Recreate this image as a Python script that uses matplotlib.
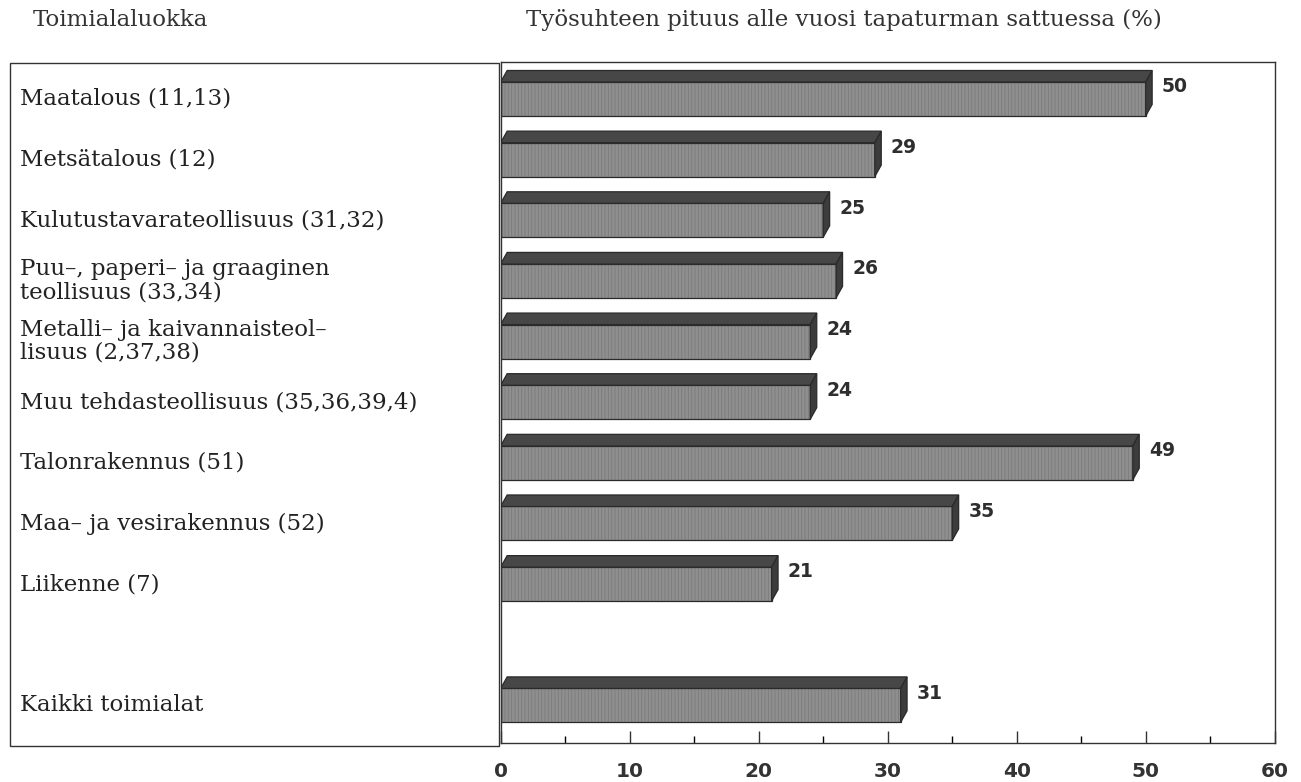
import matplotlib.pyplot as plt
import numpy as np
from matplotlib.patches import Polygon, Rectangle
from matplotlib.ticker import MultipleLocator
from matplotlib.transforms import blended_transform_factory

# Data
kategoriat = [
    "Maatalous (11,13)",
    "Metsätalous (12)",
    "Kulutustavarateollisuus (31,32)",
    "Puu–, paperi– ja graaginen\nteollisuus (33,34)",
    "Metalli– ja kaivannaisteol–\nlisuus (2,37,38)",
    "Muu tehdasteollisuus (35,36,39,4)",
    "Talonrakennus (51)",
    "Maa– ja vesirakennus (52)",
    "Liikenne (7)",
    "Kaikki toimialat",
]
arvot = [50, 29, 25, 26, 24, 24, 49, 35, 21, 31]
rivit = [0, 1, 2, 3, 4, 5, 6, 7, 8, 10]   # rivi 9 jaa tyhjaksi
x_ticks = [0, 10, 20, 30, 40, 50, 60]

otsikko_vasen = "Toimialaluokka"
otsikko_oikea = "Työsuhteen pituus alle vuosi tapaturman sattuessa (%)"

plt.rcParams['hatch.linewidth'] = 0.6

W, H = 1301, 782
fig = plt.figure(figsize=(W / 100, H / 100), dpi=100)

# vasen laatikko (luokkien nimet)
fig.patches.append(Rectangle((10 / W, 1 - 746 / H), (499 - 10) / W, (746 - 63) / H,
                             transform=fig.transFigure, fill=False,
                             edgecolor='#333333', linewidth=1.0))

ax = fig.add_axes([500.7 / W, 1 - 743 / H, 774 / W, 681 / H])
ax.set_xlim(0, 60)
ax.set_ylim(10.62, -0.61)

# 3D-palkit
h = 0.56      # etupinnan korkeus
dx = 0.5      # syvyys x-suunnassa
dy = 0.19     # syvyys y-suunnassa
ax.barh(rivit, arvot, height=h, left=0, color='#8f8f8f', edgecolor='#7a7a7a',
        linewidth=0, hatch='|||||', zorder=2)
ax.barh(rivit, arvot, height=h, left=0, fill=False, edgecolor='#2a2a2a',
        linewidth=0.9, zorder=2.5)
for r, v in zip(rivit, arvot):
    yla = r - h / 2
    ala = r + h / 2
    top = Polygon([(0, yla), (dx, yla - dy), (v + dx, yla - dy), (v, yla)],
                  closed=True, facecolor='#474747', edgecolor='#2a2a2a',
                  linewidth=0.9, zorder=3)
    side = Polygon([(v, yla), (v + dx, yla - dy), (v + dx, ala - dy), (v, ala)],
                   closed=True, facecolor='#3c3c3c', edgecolor='#2a2a2a',
                   linewidth=0.9, zorder=3)
    ax.add_patch(top)
    ax.add_patch(side)
    ax.annotate(str(v), xy=(v + dx, r - 0.2), xytext=(7, 0),
                textcoords='offset points', ha='left', va='center',
                fontsize=13.5, fontweight='bold', family='DejaVu Sans',
                color='#2e2e2e')

# akselit
ax.set_yticks([])
ax.set_xticks(x_ticks)
ax.xaxis.set_minor_locator(MultipleLocator(5))
ax.tick_params(axis='x', which='major', direction='in', length=9, width=1.0,
               pad=14, labelsize=14.5, colors='#333333')
ax.tick_params(axis='x', which='minor', direction='in', length=5, width=1.0)
for lab in ax.get_xticklabels():
    lab.set_fontweight('bold')
for s in ax.spines.values():
    s.set_color('#333333')
    s.set_linewidth(1.0)

# luokkien nimet vasempaan laatikkoon
trans = blended_transform_factory(fig.transFigure, ax.transData)
for r, nimi in zip(rivit, kategoriat):
    fig.text(20 / W, r, nimi, ha='left', va='center',
             family='DejaVu Serif', fontsize=16.5, color='#222222',
             linespacing=1.05, transform=trans)

fig.text(33 / W, 1 - 20 / H, otsikko_vasen, ha='left', va='center',
         family='DejaVu Serif', fontsize=16.5, color='#333333')
fig.text(844 / W, 1 - 20 / H, otsikko_oikea, ha='center', va='center',
         family='DejaVu Serif', fontsize=16.5, color='#333333')

fig.savefig('out.png', dpi=100)
